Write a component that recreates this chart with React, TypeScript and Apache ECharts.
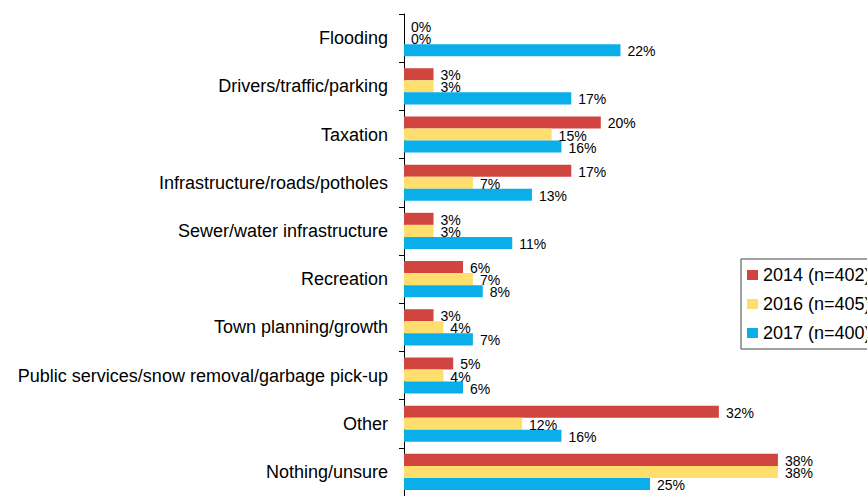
import React, { useEffect, useRef } from "react";
import * as echarts from "echarts";

const categories = [
  "Flooding",
  "Drivers/traffic/parking",
  "Taxation",
  "Infrastructure/roads/potholes",
  "Sewer/water infrastructure",
  "Recreation",
  "Town planning/growth",
  "Public services/snow removal/garbage pick-up",
  "Other",
  "Nothing/unsure",
];

const seriesNames = ["2014 (n=402)", "2016 (n=405)", "2017 (n=400)"];
const values2014 = [0, 3, 20, 17, 3, 6, 3, 5, 32, 38];
const values2016 = [0, 3, 15, 7, 3, 7, 4, 4, 12, 38];
const values2017 = [22, 17, 16, 13, 11, 8, 7, 6, 16, 25];
const colors = ["#D0453F", "#FEDE6C", "#0AAEE8"];

export default function App() {
  const ref = useRef<HTMLDivElement>(null);
  useEffect(() => {
    if (!ref.current) return;
    const chart = echarts.init(ref.current, undefined, { renderer: "svg" });
    const data = [values2014, values2016, values2017];
    chart.setOption({
      animation: false,
      textStyle: { fontFamily: "Liberation Sans, Arial, sans-serif" },
      grid: { left: 404, top: 14, width: 393.6, height: 488 },
      legend: {
        orient: "vertical",
        left: 741,
        top: 259,
        data: seriesNames,
        icon: "rect",
        itemWidth: 11,
        itemHeight: 10,
        itemGap: 11,
        padding: [7, 10, 7, 6],
        borderColor: "#444",
        borderWidth: 1,
        textStyle: { fontSize: 18, color: "#000", lineHeight: 18 },
      },
      xAxis: {
        type: "value",
        min: 0,
        max: 40,
        show: false,
      },
      yAxis: {
        type: "category",
        data: categories,
        inverse: true,
        axisLine: { lineStyle: { color: "#000", width: 1 } },
        axisTick: { show: true, length: 5, lineStyle: { color: "#000" } },
        axisLabel: { fontSize: 18, color: "#000", margin: 16 },
      },
      series: seriesNames.map((name, i) => ({
        name,
        type: "bar",
        data: data[i],
        barCategoryGap: "25%",
        barGap: "0%",
        itemStyle: { color: colors[i] },
        label: {
          show: true,
          position: "right",
          distance: 7,
          fontSize: 14,
          color: "#000",
          formatter: "{c}%",
          offset: [0, 1],
        },
      })),
    });
    return () => chart.dispose();
  }, []);
  return (
    <div
      ref={ref}
      style={{ position: "fixed", left: 0, top: 0, width: 867, height: 496, background: "#fff" }}
    />
  );
}
